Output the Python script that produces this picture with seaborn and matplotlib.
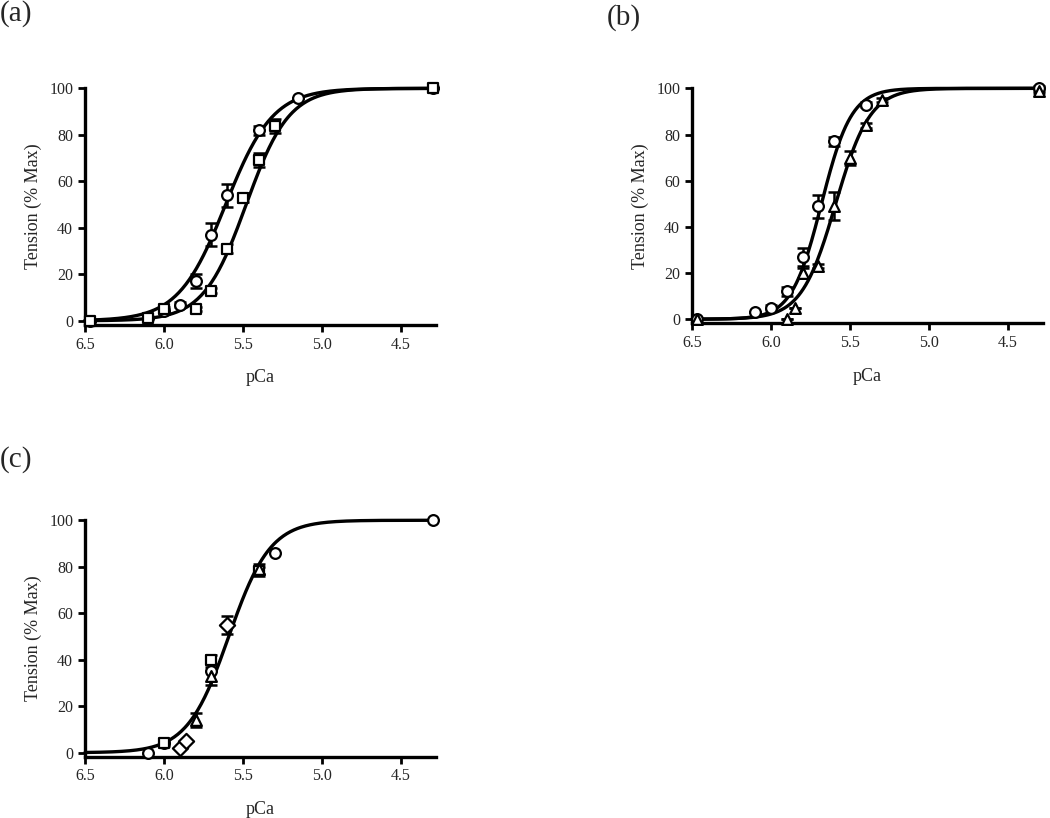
from __future__ import annotations

import matplotlib
matplotlib.use("Agg")
import matplotlib.pyplot as plt
import numpy as np
import pandas as pd
import seaborn as sns


# ---- panel (a) ----
A1_PCA = [6.47, 6.1, 6.0, 5.9, 5.8, 5.7, 5.6, 5.4, 5.15, 4.3]
A1_T = [0, 1, 4, 7, 17, 37, 54, 82, 96, 100]
A1_ERR = [0, 0, 1, 1, 3, 5, 5, 2, 0, 0]
A2_PCA = [6.47, 6.1, 6.0, 5.8, 5.7, 5.6, 5.5, 5.4, 5.3, 4.3]
A2_T = [0, 1, 5, 5, 13, 31, 53, 69, 84, 100]
A2_ERR = [0, 0, 1, 1, 1, 2, 2, 3, 3, 0]
A_FIT = [(5.61, 2.9), (5.48, 3.2)]  # (pCa50, Hill n)

# ---- panel (b) ----
B1_PCA = [6.47, 6.1, 6.0, 5.9, 5.8, 5.7, 5.6, 5.4, 4.3]
B1_T = [0, 3, 5, 12, 27, 49, 77, 93, 100]
B1_ERR = [0, 0, 1, 2, 4, 5, 2, 1, 1]
B2_PCA = [6.47, 5.9, 5.85, 5.8, 5.7, 5.6, 5.5, 5.4, 5.3, 4.3]
B2_T = [0, 0, 5, 20, 23, 49, 70, 84, 95, 99]
B2_ERR = [0, 0, 0, 2, 1, 6, 3, 1, 1, 1]
B_FIT = [(5.68, 4.6), (5.59, 4.0)]

# ---- panel (c) ----
C_CIRC_PCA = [6.1, 6.0, 5.7, 5.3, 4.3]
C_CIRC_T = [0, 4, 35, 86, 100]
C_SQ_PCA = [6.0, 5.7, 5.4]
C_SQ_T = [4, 40, 78]
C_SQ_ERR = [1, 2, 2]
C_TRI_PCA = [5.8, 5.7, 5.4]
C_TRI_T = [14, 33, 79]
C_TRI_ERR = [3, 4, 2]
C_DIA_PCA = [5.9, 5.86, 5.6]
C_DIA_T = [2, 5, 55]
C_DIA_ERR = [0, 0, 4]
C_FIT = [(5.59, 3.3)]

X_TICKS = [6.5, 6.0, 5.5, 5.0, 4.5]
Y_TICKS = [0, 20, 40, 60, 80, 100]


def hill(pca, pca50, n):
    return 100.0 / (1.0 + 10 ** (n * (pca - pca50)))


def draw_points(ax, pca, t, marker, err=None):
    df = pd.DataFrame({"pCa": pca, "T": t})
    if err is not None:
        ax.errorbar(pca, t, yerr=err, fmt="none", ecolor="black",
                    elinewidth=1.8, capsize=4, capthick=1.8, zorder=3,
                    clip_on=False)
    sns.scatterplot(data=df, x="pCa", y="T", ax=ax, marker=marker, s=60,
                    facecolor="white", edgecolor="black", linewidth=1.6,
                    zorder=4, clip_on=False, legend=False)


def style_axis(ax):
    ax.set_xlim(6.5, 4.28)
    ax.set_ylim(-1.7, 100)
    ax.set_xticks(X_TICKS)
    ax.set_xticklabels([f"{v:.1f}" for v in X_TICKS])
    ax.set_yticks(Y_TICKS)
    ax.set_xlabel("pCa", fontsize=13, labelpad=12)
    ax.set_ylabel("Tension (% Max)", fontsize=13, labelpad=5)
    ax.tick_params(width=2, length=5, labelsize=11.5, color="black", direction="out")
    sns.despine(ax=ax)
    for side in ("left", "bottom"):
        ax.spines[side].set_linewidth(2.4)
        ax.spines[side].set_color("black")


def draw_fits(ax, fits):
    grid = np.linspace(6.5, 4.28, 300)
    for pca50, n in fits:
        fit = pd.DataFrame({"pCa": grid, "T": hill(grid, pca50, n)})
        sns.lineplot(data=fit, x="pCa", y="T", ax=ax, color="black",
                     linewidth=2.4, zorder=2, clip_on=False)


def main() -> None:
    sns.set_style("ticks")
    plt.rcParams["font.family"] = ["Liberation Serif", "DejaVu Serif"]

    fig = plt.figure(figsize=(10.5, 8.18), dpi=100)
    ax_a = fig.add_axes([0.081, 0.603, 0.334, 0.289])
    ax_b = fig.add_axes([0.659, 0.605, 0.334, 0.287])
    ax_c = fig.add_axes([0.081, 0.075, 0.334, 0.289])

    draw_fits(ax_a, A_FIT)
    draw_points(ax_a, A1_PCA, A1_T, "o", A1_ERR)
    draw_points(ax_a, A2_PCA, A2_T, "s", A2_ERR)

    draw_fits(ax_b, B_FIT)
    draw_points(ax_b, B1_PCA, B1_T, "o", B1_ERR)
    draw_points(ax_b, B2_PCA, B2_T, "^", B2_ERR)

    draw_fits(ax_c, C_FIT)
    draw_points(ax_c, C_CIRC_PCA, C_CIRC_T, "o")
    draw_points(ax_c, C_SQ_PCA, C_SQ_T, "s", C_SQ_ERR)
    draw_points(ax_c, C_TRI_PCA, C_TRI_T, "^", C_TRI_ERR)
    draw_points(ax_c, C_DIA_PCA, C_DIA_T, "D", C_DIA_ERR)

    for ax in (ax_a, ax_b, ax_c):
        style_axis(ax)

    fig.text(0.0, 1.0, "(a)", fontsize=21, ha="left", va="top")
    fig.text(0.578, 0.995, "(b)", fontsize=21, ha="left", va="top")
    fig.text(0.0, 0.455, "(c)", fontsize=21, ha="left", va="top")

    fig.savefig("out.png", dpi=100)
    plt.close(fig)


if __name__ == "__main__":
    main()
